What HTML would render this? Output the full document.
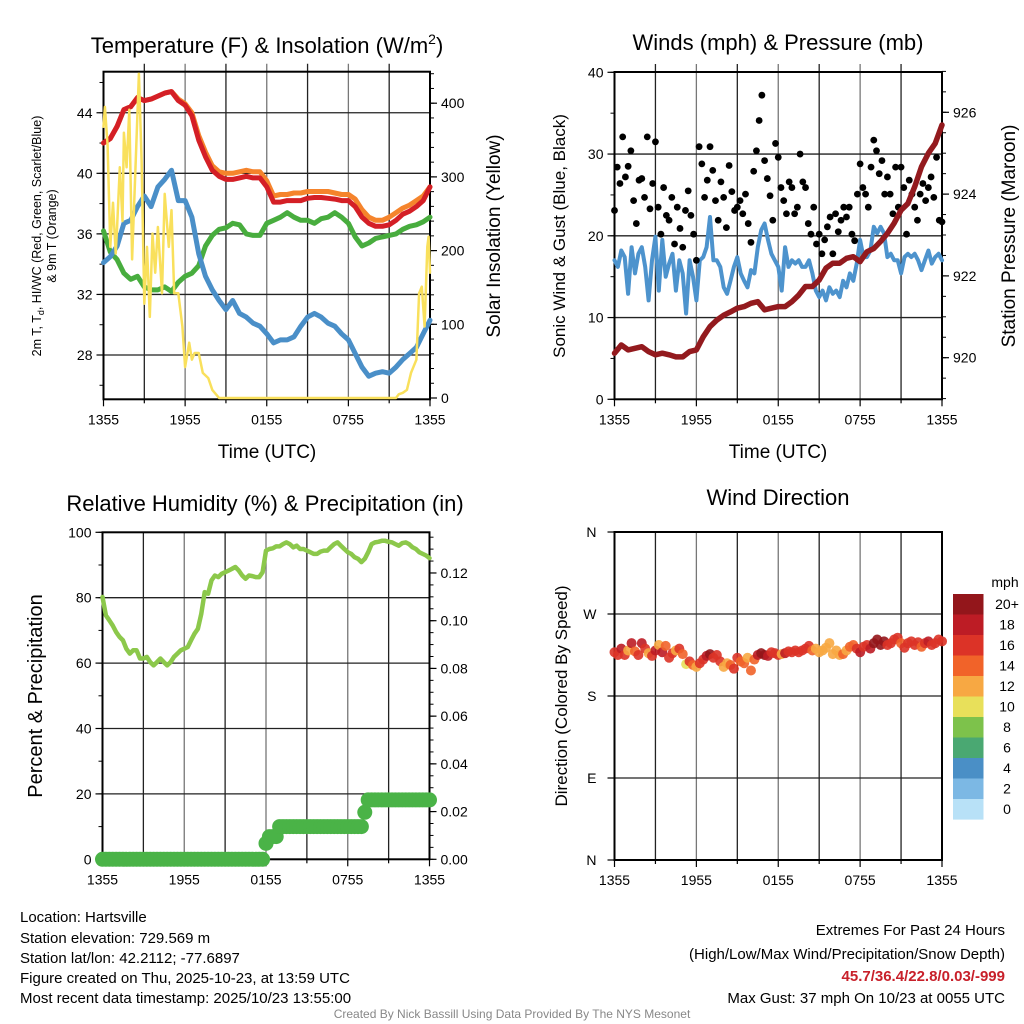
<!DOCTYPE html>
<html><head><meta charset="utf-8"><style>
html,body{margin:0;padding:0;background:#fff;}
svg{display:block;font-family:"Liberation Sans",sans-serif;}
</style></head><body>
<svg id="c" width="1024" height="1024" viewBox="0 0 1024 1024" xmlns="http://www.w3.org/2000/svg">
<rect width="1024" height="1024" fill="#fff"/>
<g id="g1"></g>
<g id="g2"></g>
<g id="g3"></g>
<g id="g4"></g>
<text x="267" y="53" font-size="22" text-anchor="middle">Temperature (F) &amp; Insolation (W/m<tspan font-size="14" dy="-9">2</tspan><tspan dy="9">)</tspan></text>
<text x="778" y="50" font-size="22" text-anchor="middle">Winds (mph) &amp; Pressure (mb)</text>
<text x="265" y="511" font-size="22" text-anchor="middle">Relative Humidity (%) &amp; Precipitation (in)</text>
<text x="778" y="505" font-size="22" text-anchor="middle">Wind Direction</text>
<text transform="translate(41,236) rotate(-90)" font-size="12.5" text-anchor="middle">2m T, T<tspan font-size="9" dy="3">d</tspan><tspan dy="-3">, HI/WC (Red, Green, Scarlet/Blue)</tspan></text>
<text transform="translate(56,236) rotate(-90)" font-size="12.5" text-anchor="middle">&amp; 9m T (Orange)</text>
<text transform="translate(500,236) rotate(-90)" font-size="19" text-anchor="middle">Solar Insolation (Yellow)</text>
<text x="267" y="458" font-size="19" text-anchor="middle">Time (UTC)</text>
<text transform="translate(565,236) rotate(-90)" font-size="17" text-anchor="middle">Sonic Wind &amp; Gust (Blue, Black)</text>
<text transform="translate(1015,236) rotate(-90)" font-size="19" text-anchor="middle">Station Pressure (Maroon)</text>
<text x="778" y="458" font-size="19" text-anchor="middle">Time (UTC)</text>
<text transform="translate(42,696) rotate(-90)" font-size="20" text-anchor="middle">Percent &amp; Precipitation</text>
<text transform="translate(567,696) rotate(-90)" font-size="17" text-anchor="middle">Direction (Colored By Speed)</text>
<text x="1005" y="587" font-size="14" text-anchor="middle">mph</text>
<g font-size="15">
<text x="20" y="922">Location: Hartsville</text>
<text x="20" y="943">Station elevation: 729.569 m</text>
<text x="20" y="963">Station lat/lon: 42.2112; -77.6897</text>
<text x="20" y="983">Figure created on Thu, 2025-10-23, at 13:59 UTC</text>
<text x="20" y="1003">Most recent data timestamp: 2025/10/23 13:55:00</text>
</g>
<g font-size="15" text-anchor="end">
<text x="1005" y="935">Extremes For Past 24 Hours</text>
<text x="1005" y="959">(High/Low/Max Wind/Precipitation/Snow Depth)</text>
<text x="1005" y="981" fill="#c8202a" font-weight="bold">45.7/36.4/22.8/0.03/-999</text>
<text x="1005" y="1003">Max Gust: 37 mph On 10/23 at 0055 UTC</text>
</g>
<text x="512" y="1018" font-size="12" fill="#888" text-anchor="middle">Created By Nick Bassill Using Data Provided By The NYS Mesonet</text>
</svg>
<script>
// ---- data ----
const xTickLabels = ["1355","1955","0155","0755","1355"];
const temp2m = [42.0,42.3,43.1,44.2,44.4,45.0,44.8,44.9,45.1,45.3,45.4,44.8,44.5,43.8,42.2,41.1,40.2,39.8,39.6,39.6,39.7,39.8,39.7,39.7,39.1,38.1,38.1,38.2,38.2,38.2,38.35,38.4,38.4,38.35,38.3,38.2,38.2,37.8,37.1,36.7,36.5,36.5,36.6,36.9,37.3,37.5,37.8,38.2,39.1];
const temp9m = [42.0,42.3,43.1,44.2,44.4,45.0,44.8,44.9,45.1,45.3,45.4,44.9,44.6,44.0,42.5,41.4,40.5,40.1,40.0,40.0,40.1,40.2,40.1,40.1,39.5,38.5,38.6,38.6,38.7,38.7,38.8,38.8,38.8,38.8,38.7,38.6,38.6,38.3,37.6,37.1,36.9,36.9,37.1,37.4,37.7,37.9,38.2,38.5,39.1];
const dewpoint = [36.2,34.8,34.3,33.4,33.0,33.2,32.5,32.3,32.3,32.5,32.2,32.8,33.2,33.4,33.9,35.2,35.9,36.3,36.4,36.7,36.6,36.0,35.9,35.9,36.7,36.9,37.1,37.4,37.1,36.9,36.9,36.7,37.0,37.1,37.4,37.1,36.7,35.8,35.2,35.4,35.7,35.8,35.9,36.0,36.3,36.5,36.6,36.8,37.1];
const windChill = [34.1,34.5,35.2,36.7,36.9,37.8,38.5,37.8,39.1,39.6,40.2,38.2,38.2,37.1,34.7,33.2,32.3,31.6,31.0,31.6,30.75,30.5,30.1,29.9,29.4,28.8,29.0,29.0,29.2,29.9,30.5,30.75,30.5,30.1,29.9,29.4,29.0,28.1,27.2,26.6,26.8,26.9,26.8,27.2,27.7,28.1,28.5,29.4,30.3];
const insolHours = [0,0.1,0.3,0.5,0.7,0.9,1.0,1.2,1.4,1.5,1.7,1.9,2.1,2.3,2.6,2.8,3.0,3.2,3.4,3.6,3.8,4.0,4.3,4.5,4.8,5.0,5.2,5.5,5.8,6.0,6.3,6.5,6.7,7.0,7.3,7.7,8.0,8.5,21.5,21.7,22.0,22.3,22.6,23.0,23.2,23.4,23.6,23.8,23.9,24.0];
const insolation = [368,395,343,205,265,196,232,313,240,360,313,391,188,287,440,322,128,205,110,223,170,232,142,277,205,255,142,142,97,42,75,52,61,61,34,27,11,0,0,5,7,11,34,52,142,151,97,205,219,170];
const pressure = [920.11,920.31,920.19,920.23,920.27,920.15,920.07,920.11,920.07,920.02,920.02,920.15,920.19,920.51,920.76,920.92,921.04,921.12,921.21,921.25,921.33,921.37,921.17,921.21,921.25,921.25,921.37,921.53,921.74,921.74,921.90,922.19,922.31,922.31,922.43,922.47,922.35,922.59,922.67,922.84,923.04,923.29,923.61,923.77,924.18,924.67,925.0,925.24,925.69];
const windSpeed = [17.0,16.2,18.2,17.4,12.9,18.6,15.4,17.8,18.6,16.2,12.1,17.0,19.9,13.3,19.5,15.0,16.6,17.8,13.3,17.0,15.4,10.5,17.0,15.0,12.1,17.0,17.4,18.6,22.3,17.0,17.0,16.2,13.7,12.9,14.5,16.2,17.4,15.4,14.5,13.7,15.8,15.4,18.6,20.7,21.5,19.5,17.8,17.0,16.2,13.3,18.6,16.2,17.0,16.6,17.0,16.2,16.2,17.0,15.4,13.3,12.5,13.3,12.1,13.7,12.9,13.3,12.5,14.5,13.7,15.4,14.5,16.6,19.5,17.4,17.4,18.2,21.1,20.3,21.1,20.3,17.4,17.8,17.0,17.0,15.4,17.4,17.8,17.4,17.8,17.0,15.8,17.0,18.2,16.6,17.4,17.8,17.0];
const windGust = [23.1,28.4,26.4,32.1,27.2,28.5,30.4,24.3,21.5,26.8,27.0,24.7,32.1,23.3,26.4,31.5,23.5,20.2,25.9,22.5,21.9,24.7,19.0,23.5,20.9,18.6,23.1,25.5,22.5,20.2,17.0,30.9,28.8,24.7,26.8,30.9,28.0,24.3,21.9,26.6,24.7,21.0,28.6,25.4,23.1,23.5,24.3,22.7,25.1,21.5,19.2,27.9,30.4,34.1,37.2,29.2,27.0,24.9,21.9,31.3,29.6,25.9,24.3,22.7,26.6,25.9,22.7,23.5,30.0,26.6,25.9,21.5,20.2,23.5,19.0,20.2,17.8,19.5,21.1,22.3,17.8,22.7,20.5,21.9,23.5,22.3,23.5,20.2,19.4,25.1,28.8,25.9,25.1,23.5,28.4,31.7,30.4,27.6,29.2,25.1,27.2,25.1,22.7,28.4,23.5,28.4,25.9,20.2,26.8,25.1,23.5,21.9,25.1,26.4,24.3,25.9,27.2,24.7,29.6,21.9,21.7];
const relHumidity = [80.2,74.6,73.1,71.5,69.5,68.0,67.0,64.4,62.9,63.9,63.9,61.4,61.4,61.9,60.3,59.3,60.3,61.4,60.3,59.3,60.3,61.9,62.9,63.9,64.4,64.9,67.0,69.0,70.5,75.1,81.7,81.2,85.3,86.8,86.3,87.3,87.8,88.3,88.8,89.4,88.3,86.8,85.8,86.8,86.6,86.3,86.3,87.8,94.4,94.9,95.1,95.7,95.7,96.4,96.9,96.4,95.4,95.9,94.9,94.9,94.4,93.9,93.4,93.4,94.1,94.4,94.4,95.4,96.4,96.9,95.9,94.9,93.9,93.4,92.4,91.9,90.9,91.9,93.9,96.4,96.9,97.1,97.4,97.4,97.1,96.9,96.4,95.9,96.7,96.9,96.4,95.4,94.9,93.9,93.4,92.9,92.1];
const precip = [0,0,0,0,0,0,0,0,0,0,0,0,0,0,0,0,0,0,0,0,0,0,0,0,0,0,0,0,0,0,0,0,0,0,0,0,0,0,0,0,0,0,0,0,0,0,0,0,0.0067,0.0095,0.0095,0.0095,0.0137,0.0137,0.0137,0.0137,0.0137,0.0137,0.0137,0.0137,0.0137,0.0137,0.0137,0.0137,0.0137,0.0137,0.0137,0.0137,0.0137,0.0137,0.0137,0.0137,0.0137,0.0137,0.0137,0.0137,0.0137,0.0197,0.0249,0.0249,0.0249,0.0249,0.0249,0.0249,0.0249,0.0249,0.0249,0.0249,0.0249,0.0249,0.0249,0.0249,0.0249,0.0249,0.0249,0.0249,0.0249];
const windDir = [228,225,232,225,230,238,229,225,238,232,227,224,230,236,228,235,222,227,230,232,226,215,218,214,212,216,220,224,226,222,225,218,212,216,214,210,222,218,216,222,208,220,225,227,225,224,228,227,225,226,227,229,228,230,228,230,232,235,230,232,228,230,233,238,226,230,225,226,230,234,236,232,228,234,236,232,238,242,236,240,236,238,242,244,238,233,238,240,236,239,234,238,240,236,238,242,240];
const cbLabels = ["20+","18","16","14","12","10","8","6","4","2","0"];
const cbColors = ["#93161b","#bd1c25","#dc3327","#f16329","#f7a843","#e8e05a","#7dc24b","#4aa872","#4a8fc6","#7cb8e4","#b8e1f7"];

// ---- helpers ----
const NS="http://www.w3.org/2000/svg";
function mk(tag, attrs, parent){const e=document.createElementNS(NS,tag);for(const k in attrs)e.setAttribute(k,attrs[k]);parent.appendChild(e);return e;}
function hx(p,h){return p.x0+(p.x1-p.x0)*h/24;}
function stepHours(arr,step){return arr.map((v,i)=>i*step);}

const P1={x0:103.5,x1:430,top:71.7,bot:399.3,g:document.getElementById('g1')};
const P2={x0:614.5,x1:942,top:72,bot:399.3,g:document.getElementById('g2')};
const P3={x0:102.5,x1:429.5,top:532.3,bot:859.3,g:document.getElementById('g3')};
const P4={x0:614.5,x1:942,top:532,bot:860,g:document.getElementById('g4')};
const yT=t=>355-(t-28)*15.14, yI=v=>398-v*0.737;
const yW=w=>399.3-w*8.175, yP=p=>357.7-(p-920)*40.9;
const yRH=r=>859.3-r*3.27, yPr=p=>859.3-p*2386;
const yD=d=>860-d*0.9111;

function frame(p,name,hLines,gridTopExt){
  const g=p.g;
  for(let k=1;k<8;k++){
    const x=hx(p,k*3);
    const l=mk('line',{x1:x,x2:x,y1:p.top-gridTopExt,y2:p.bot,stroke:(k%2==0)?'#777':'#222','stroke-width':1.3},g);
    
    
  }
  hLines.forEach(y=>{
    const l=mk('line',{x1:p.x0,x2:p.x1,y1:y,y2:y,stroke:'#222','stroke-width':1.3},g);
    
    
  });
  const r=mk('rect',{x:p.x0,y:p.top,width:p.x1-p.x0,height:p.bot-p.top,fill:'none',stroke:'#000','stroke-width':2},g);
  
  
  for(let k=0;k<=8;k++){
    const x=hx(p,k*3);
    const t=mk('line',{x1:x,x2:x,y1:p.bot,y2:p.bot+(k%2==0?7:4),stroke:'#000','stroke-width':1.2},g);
    
    
  }
  xTickLabels.forEach((s,i)=>{
    const t=mk('text',{x:hx(p,i*6),y:p.bot+25,'font-size':14,'text-anchor':'middle'},g);
    t.textContent=s;
    
    
  });
}
function yAxis(p,side,vals,fn,fmt,minorVals,labelOff){
  const g=p.g, x=side=='l'?p.x0:p.x1, s=side=='l'?-1:1;
  minorVals.forEach(v=>{const y=fn(v);if(y<p.top-1||y>p.bot+1)return;
    const t=mk('line',{x1:x,x2:x+s*4,y1:y,y2:y,stroke:'#000','stroke-width':1},g);
    
    });
  vals.forEach(v=>{const y=fn(v);
    const t=mk('line',{x1:x,x2:x+s*7,y1:y,y2:y,stroke:'#000','stroke-width':1.2},g);
    
    
    const tx=mk('text',{x:x+s*(labelOff||11),y:y+5,'font-size':14,'text-anchor':side=='l'?'end':'start'},g);
    tx.textContent=fmt(v);
    
    });
}
function poly(p,hours,vals,fn,color,w,name){
  const pts=vals.map((v,i)=>hx(p,hours[i]).toFixed(1)+','+fn(v).toFixed(1)).join(' ');
  const e=mk('polyline',{points:pts,fill:'none',stroke:color,'stroke-width':w,'stroke-linejoin':'round','stroke-linecap':'round'},p.g);
  
  
}
function range(a,b,s){const r=[];for(let v=a;v<=b+1e-9;v+=s)r.push(+v.toFixed(4));return r;}

// ---- Panel 1 ----
frame(P1,'temperature',[28,32,36,40,44].map(yT),8);
yAxis(P1,'l',[28,32,36,40,44],yT,v=>v,range(26,46,2));
yAxis(P1,'r',[0,100,200,300,400],yI,v=>v,range(0,440,20));
const h30=stepHours(temp2m,0.5);
poly(P1,h30,temp9m,yT,'#f5842c',5,'temp-9m-line');
poly(P1,h30,temp2m,yT,'#d41f26',5,'temp-2m-line');
poly(P1,h30,dewpoint,yT,'#48ad3e',5,'dewpoint-line');
poly(P1,h30,windChill,yT,'#4a8fc8',5,'windchill-line');
poly(P1,insolHours,insolation,yI,'#f9e05c',2.5,'insolation-line');

// ---- Panel 2 ----
frame(P2,'winds',[10,20,30].map(yW),8);
yAxis(P2,'l',[0,10,20,30,40],yW,v=>v,range(0,40,5));
yAxis(P2,'r',[920,922,924,926],yP,v=>v,range(919,927,0.5));
poly(P2,stepHours(windSpeed,0.25),windSpeed,yW,'#4d93cd',4,'sonic-wind-line');
windGust.forEach((v,i)=>{
  const c=mk('circle',{cx:hx(P2,i*0.2),cy:yW(v),r:3.4,fill:'#000'},P2.g);
  
  
});
poly(P2,stepHours(pressure,0.5),pressure,yP,'#931a1e',5.5,'pressure-line');

// ---- Panel 3 ----
frame(P3,'humidity',[20,40,60,80].map(yRH),0);
yAxis(P3,'l',[0,20,40,60,80,100],yRH,v=>v,range(0,100,10));
yAxis(P3,'r',[0,0.02,0.04,0.06,0.08,0.1,0.12],yPr,v=>v.toFixed(2),range(0,0.135,0.005));
poly(P3,stepHours(relHumidity,0.25),relHumidity,yRH,'#8cc84b',4.5,'humidity-line');
precip.forEach((v,i)=>{
  const c=mk('circle',{cx:hx(P3,i*0.25),cy:yPr(v),r:7.5,fill:'#4ab347'},P3.g);
  
  
});

// ---- Panel 4 ----
frame(P4,'wind-direction',[90,180,270].map(yD),0);
const dirLabels=["N","E","S","W","N"];
[0,90,180,270,360].forEach((d,i)=>{
  const y=yD(d);
  const t=mk('line',{x1:P4.x0,x2:P4.x0-7,y1:y,y2:y,stroke:'#000','stroke-width':1.2},P4.g);
  
  
  const tx=mk('text',{x:P4.x0-18,y:y+5,'font-size':14,'text-anchor':'end'},P4.g);
  tx.textContent=dirLabels[i];
  
  
});
function spdColor(s){const b=s>=20?0:10-Math.floor(Math.max(0,s)/2);return cbColors[Math.max(0,Math.min(10,b))];}
windDir.forEach((d,i)=>{
  const c=mk('circle',{cx:hx(P4,i*0.25),cy:yD(d),r:5,fill:spdColor(windSpeed[i]),'fill-opacity':0.9},P4.g);
  
  
});
const svg=document.getElementById('c');
cbLabels.forEach((s,i)=>{
  const y=594+i*20.5;
  const r=mk('rect',{x:953,y:y,width:30.5,height:20.6,fill:cbColors[i]},svg);
  
  
  const t=mk('text',{x:1007,y:y+15,'font-size':14,'text-anchor':'middle'},svg);
  t.textContent=s;
  
  
});
</script>
</body></html>
